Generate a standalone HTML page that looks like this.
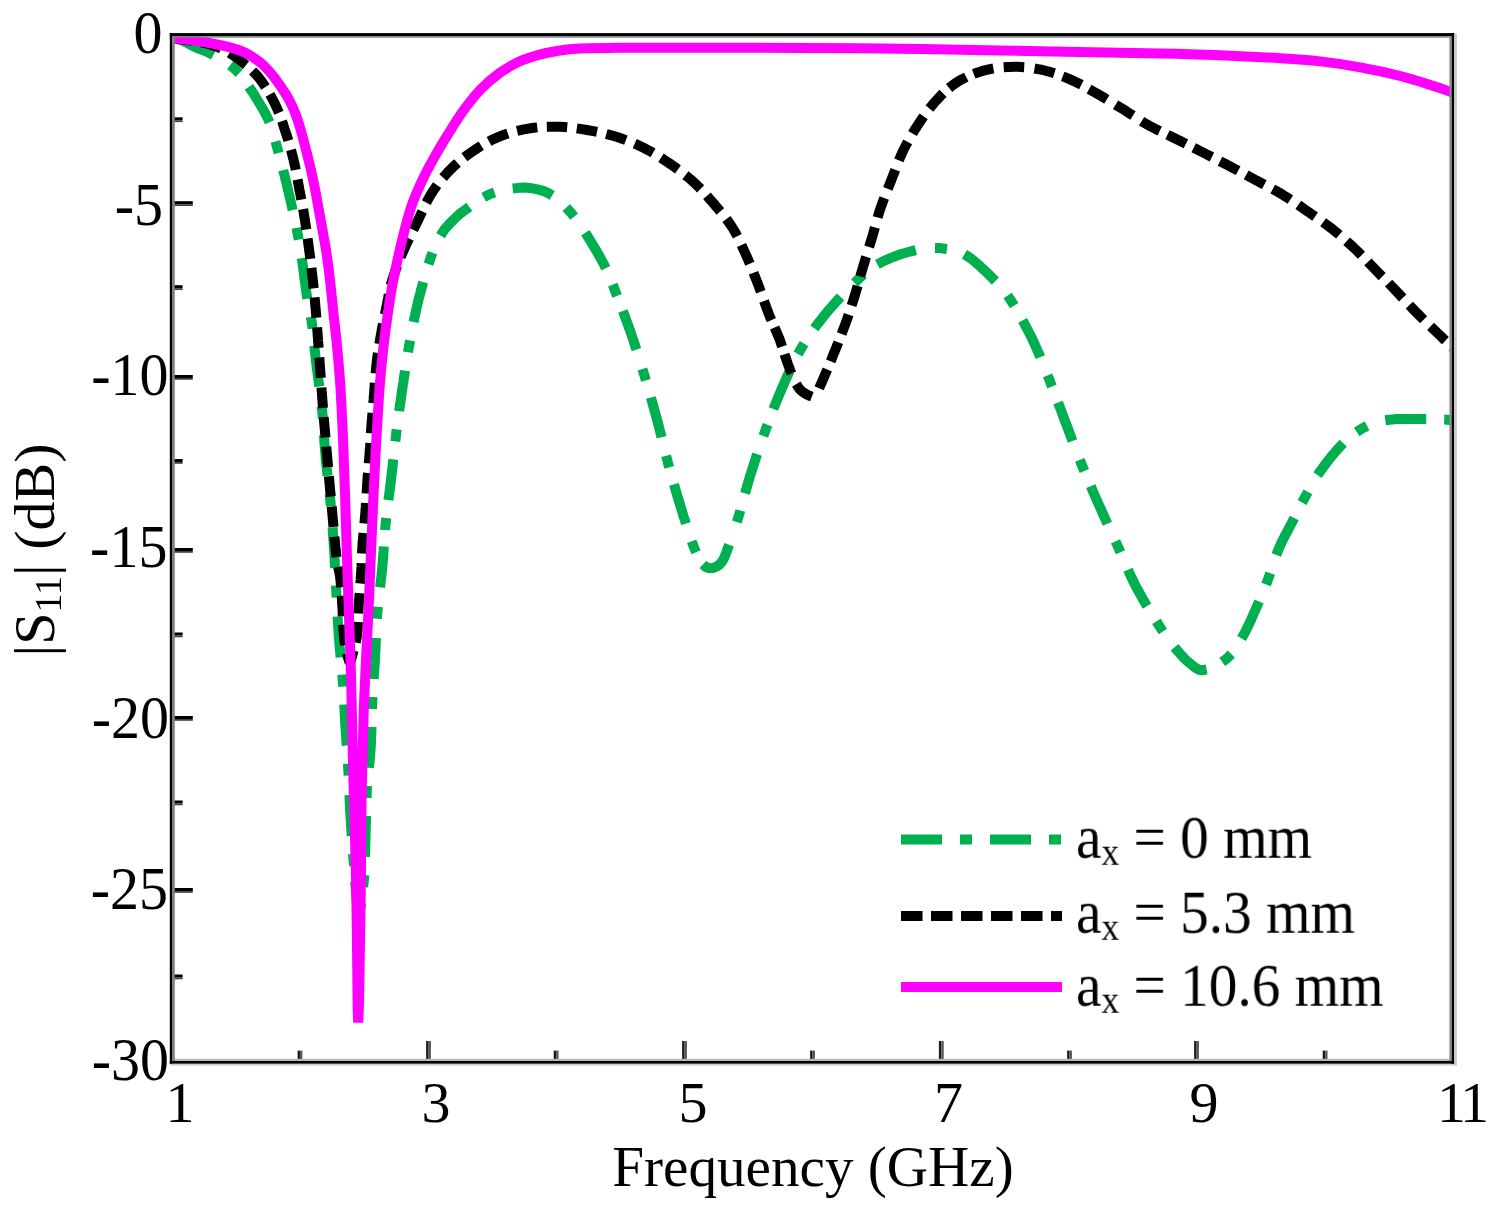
<!DOCTYPE html>
<html><head><meta charset="utf-8"><title>S11</title>
<style>
html,body{margin:0;padding:0;background:#fff;}
body{width:1498px;height:1215px;position:relative;overflow:hidden;font-family:"Liberation Serif",serif;color:#000;}
.yl{position:absolute;width:160px;text-align:right;font-size:58px;line-height:80px;height:80px;white-space:nowrap;transform-origin:100% 50%;transform:scale(1,1.055);}
.xl{position:absolute;top:1063px;width:200px;text-align:center;font-size:58px;line-height:80px;height:80px;white-space:nowrap;}
.xt{position:absolute;left:413px;width:800px;top:1127px;text-align:center;font-size:58px;line-height:80px;white-space:nowrap;transform:scale(0.985,1);}
.yt{will-change:transform;position:absolute;left:0;top:0;font-size:58px;line-height:80px;white-space:nowrap;transform-origin:0 0;transform:translate(-5px,750px) rotate(-90deg);width:400px;text-align:center;}
.lg{will-change:transform;position:absolute;left:1076px;font-size:58px;line-height:80px;white-space:nowrap;transform-origin:0 59.6px;transform:scale(0.987,1.055);}
sub{font-size:38px;vertical-align:-7px;line-height:0;}
.lg sub{font-size:36px;vertical-align:-6px;}
</style></head><body>
<svg width="1498" height="1215" viewBox="0 0 1498 1215" style="position:absolute;left:0;top:0">
<defs><clipPath id="cp"><rect x="172.0" y="36.0" width="1281.0" height="1026.0"/></clipPath></defs>
<g fill="none" clip-path="url(#cp)">
<path d="M175.9,38.7 L179.5,39.6 L183.0,40.9 L186.4,42.6 L189.7,44.3 L193.0,46.0 L196.3,47.6 L199.8,49.1 L203.3,50.3 L206.8,51.7 L210.1,53.3 L213.4,55.1 M230.1,65.3 L233.3,67.7 L236.3,70.4 L239.1,73.2 M249.0,86.8 L251.0,89.9 L253.1,93.0 L255.1,96.2 L257.0,99.3 L259.0,102.5 L260.9,105.7 L262.8,108.9 L264.6,112.2 L266.3,115.5 L268.0,118.8 L269.5,122.2 M275.5,141.5 L276.5,145.4 L277.6,149.2 L278.6,153.1 M283.2,170.1 L284.1,173.8 L285.0,177.4 L285.9,181.0 L286.8,184.6 L287.6,188.3 L288.5,191.9 L289.3,195.5 L290.2,199.1 L291.0,202.8 L291.8,206.4 L292.6,210.1 M296.5,227.8 L297.2,231.7 L298.0,235.7 L298.7,239.6 M301.7,258.1 L302.3,261.8 L302.8,265.5 L303.3,269.2 L303.8,272.9 L304.2,276.6 L304.7,280.3 L305.2,284.0 L305.7,287.7 L306.2,291.4 L306.7,295.1 L307.3,298.8 M310.8,316.8 L311.5,320.8 L312.1,324.7 L312.6,328.7 M314.3,345.8 L314.7,349.5 L315.1,353.2 L315.5,356.9 L315.9,360.6 L316.4,364.3 L316.9,368.0 L317.3,371.7 L317.8,375.4 L318.3,379.1 L318.8,382.8 L319.3,386.5 M321.7,406.2 L322.1,410.1 L322.5,414.1 L322.8,418.1 M324.0,435.1 L324.2,438.8 L324.4,442.5 L324.7,446.2 L325.0,450.0 L325.3,453.7 L325.6,457.4 L325.9,461.1 L326.3,464.8 L326.7,468.5 L327.1,472.2 L327.6,475.9 M329.7,494.2 L330.1,498.2 L330.5,502.2 L330.9,506.2 M332.6,527.2 L332.8,530.9 L333.1,534.6 L333.3,538.4 L333.6,542.1 L333.8,545.8 L334.0,549.5 L334.3,553.2 L334.5,557.0 L334.7,560.7 L334.9,564.4 L335.1,568.1 M336.0,585.4 L336.2,589.4 L336.4,593.4 L336.6,597.4 M337.6,616.4 L337.8,620.1 L338.0,623.9 L338.3,627.6 L338.5,631.3 L338.7,635.0 L339.0,638.7 L339.3,642.5 L339.6,646.2 L339.9,649.9 L340.3,653.6 L340.6,657.3 M342.3,674.7 L342.6,678.7 L342.9,682.7 L343.2,686.7 M344.2,704.5 L344.4,708.3 L344.6,712.0 L344.8,715.7 L345.0,719.4 L345.2,723.1 L345.4,726.9 L345.7,730.6 L345.9,734.3 L346.2,738.0 L346.4,741.7 L346.7,745.5 M347.9,763.6 L348.2,767.6 L348.4,771.6 L348.6,775.6 M349.4,794.9 L349.6,798.6 L349.7,802.4 L349.9,806.1 L350.1,809.8 L350.3,813.5 L350.5,817.3 L350.8,821.0 L351.0,824.7 L351.2,828.4 L351.5,832.1 L351.7,835.9 M353.0,854.0 L353.3,858.0 L353.7,862.0 L354.0,866.0 M355.2,881.8 L355.4,885.5 L355.7,889.2 L356.0,892.9 L356.4,896.6 L356.7,900.3 L357.1,904.1 L357.6,907.7 L358.3,911.4 L359.9,910.0 L360.6,906.4 L361.2,902.7 M363.1,887.0 L363.6,883.0 L364.0,879.0 L364.4,875.0 M365.0,856.9 L365.1,853.2 L365.2,849.5 L365.3,845.7 L365.4,842.0 L365.5,838.3 L365.6,834.6 L365.7,830.8 L365.8,827.1 L365.9,823.4 L366.0,819.7 L366.0,815.9 M366.5,797.9 L366.7,793.9 L366.9,789.9 L367.2,785.9 M368.9,767.8 L369.3,764.1 L369.7,760.4 L370.0,756.7 L370.3,753.0 L370.6,749.3 L370.8,745.5 L371.0,741.8 L371.1,738.1 L371.3,734.4 L371.4,730.6 L371.5,726.9 M372.0,709.0 L372.1,705.0 L372.3,701.0 L372.5,697.0 M373.7,679.0 L373.9,675.2 L374.2,671.5 L374.4,667.8 L374.7,664.1 L374.9,660.4 L375.1,656.6 L375.3,652.9 L375.5,649.2 L375.6,645.5 L375.8,641.7 L376.0,638.0 M377.0,618.8 L377.2,614.8 L377.6,610.8 L377.9,606.8 M380.1,587.4 L380.5,583.7 L380.9,580.0 L381.4,576.3 L381.7,572.6 L382.1,568.9 L382.5,565.1 L382.8,561.4 L383.1,557.7 L383.3,554.0 L383.6,550.3 L383.8,546.6 M385.1,530.0 L385.4,526.0 L385.8,522.0 L386.2,518.0 M388.4,500.1 L388.9,496.4 L389.4,492.7 L389.9,489.0 L390.3,485.4 L390.8,481.7 L391.2,477.9 L391.6,474.2 L392.1,470.5 L392.5,466.8 L392.9,463.1 L393.3,459.4 M395.3,441.3 L395.8,437.3 L396.2,433.3 L396.7,429.3 M399.1,411.2 L399.6,407.5 L400.2,403.8 L400.7,400.1 L401.2,396.4 L401.7,392.7 L402.3,389.1 L402.8,385.4 L403.4,381.7 L403.9,378.0 L404.5,374.3 L405.0,370.6 M408.0,352.3 L408.6,348.4 L409.4,344.4 L410.1,340.5 M413.6,322.0 L414.3,318.4 L415.1,314.7 L415.9,311.1 L416.7,307.4 L417.6,303.8 L418.4,300.2 L419.3,296.6 L420.3,293.0 L421.2,289.4 L422.2,285.8 L423.2,282.2 M428.5,264.1 L429.8,260.3 L431.1,256.5 L432.5,252.8 M440.6,235.6 L442.5,232.4 L444.6,229.4 L447.0,226.5 L449.5,223.8 L452.2,221.1 L454.8,218.5 L457.5,215.9 L460.3,213.5 L463.3,211.2 L466.3,209.1 L469.3,206.9 M483.7,197.3 L487.2,195.4 L490.8,193.8 L494.6,192.5 M512.7,188.5 L516.4,188.1 L520.1,187.7 L523.8,187.6 L527.5,187.8 L531.2,188.2 L534.9,188.9 L538.6,189.6 L542.1,190.6 L545.6,191.9 L549.0,193.5 L552.2,195.5 M566.2,207.6 L568.9,210.5 L571.6,213.5 L574.2,216.6 M585.3,232.7 L587.3,235.8 L589.3,239.0 L591.2,242.2 L593.1,245.3 L595.0,248.6 L596.9,251.8 L598.8,255.0 L600.6,258.3 L602.4,261.5 L604.1,264.8 L605.8,268.2 M612.7,284.7 L614.2,288.4 L615.6,292.2 L617.1,295.9 M622.9,311.0 L624.2,314.5 L625.5,318.0 L626.7,321.5 L628.0,325.0 L629.3,328.5 L630.5,332.0 L631.7,335.5 L632.9,339.0 L634.1,342.6 L635.2,346.1 L636.4,349.7 M642.4,369.0 L643.6,372.8 L644.8,376.6 L645.9,380.4 M650.9,397.5 L651.9,401.1 L652.9,404.7 L653.9,408.3 L654.9,411.9 L655.9,415.5 L656.9,419.1 L657.8,422.7 L658.8,426.3 L659.7,429.9 L660.6,433.5 L661.5,437.2 M666.1,455.7 L667.1,459.6 L668.1,463.4 L669.2,467.3 M674.0,484.3 L675.0,487.9 L676.0,491.5 L677.1,495.1 L678.2,498.7 L679.3,502.2 L680.3,505.8 L681.4,509.3 L682.5,512.9 L683.6,516.5 L684.8,520.0 L685.9,523.6 M691.7,541.2 L693.1,544.9 L694.5,548.7 L696.1,552.3 M703.0,564.3 L705.7,566.9 L709.1,568.2 L712.8,568.0 L716.4,566.8 L719.4,564.7 L721.9,561.9 L723.7,558.7 L725.2,555.3 L726.6,551.8 L727.8,548.3 L729.1,544.8 M736.8,522.0 L738.0,518.2 L739.2,514.4 L740.3,510.5 M745.1,493.4 L746.1,489.8 L747.1,486.2 L748.1,482.6 L749.2,479.0 L750.2,475.5 L751.4,471.9 L752.5,468.4 L753.6,464.8 L754.8,461.3 L755.9,457.7 L757.1,454.2 M763.4,436.0 L764.7,432.3 L766.1,428.5 L767.5,424.8 M773.4,409.0 L774.8,405.5 L776.2,402.0 L777.6,398.6 L779.0,395.1 L780.5,391.7 L781.9,388.3 L783.4,384.9 L784.9,381.5 L786.4,378.0 L788.0,374.6 L789.5,371.3 M798.0,354.0 L800.0,350.5 L802.0,347.1 L804.1,343.7 M814.4,328.4 L816.6,325.4 L818.9,322.4 L821.2,319.5 L823.5,316.5 L825.8,313.6 L828.2,310.8 L830.6,307.9 L833.1,305.1 L835.6,302.4 L838.1,299.6 L840.6,296.9 M854.5,282.8 L857.4,280.1 L860.4,277.4 L863.4,274.7 M877.4,264.4 L880.7,262.6 L884.0,260.9 L887.4,259.4 L890.9,257.9 L894.3,256.6 L897.8,255.3 L901.4,254.1 L904.9,253.0 L908.5,252.0 L912.1,251.1 L915.8,250.2 M935.0,248.0 L939.0,248.1 L943.0,248.5 L947.0,249.0 M964.4,254.4 L967.6,256.3 L970.7,258.4 L973.6,260.7 L976.5,263.1 L979.3,265.5 L982.0,268.1 L984.7,270.6 L987.4,273.2 L990.1,275.8 L992.7,278.5 L995.3,281.1 M1007.7,295.6 L1009.9,298.9 L1012.1,302.3 L1014.2,305.7 M1022.6,320.3 L1024.4,323.6 L1026.1,326.9 L1027.8,330.2 L1029.5,333.5 L1031.2,336.8 L1032.8,340.2 L1034.4,343.6 L1035.9,347.0 L1037.4,350.4 L1038.9,353.8 L1040.3,357.2 M1047.6,375.3 L1049.1,379.0 L1050.5,382.8 L1052.0,386.5 M1058.1,402.6 L1059.4,406.1 L1060.7,409.6 L1062.0,413.1 L1063.3,416.6 L1064.6,420.1 L1066.0,423.5 L1067.3,427.0 L1068.6,430.5 L1069.9,434.0 L1071.2,437.5 L1072.5,441.0 M1079.8,459.8 L1081.3,463.5 L1082.8,467.3 L1084.3,471.0 M1090.8,486.2 L1092.2,489.6 L1093.7,493.1 L1095.2,496.5 L1096.7,499.9 L1098.2,503.3 L1099.8,506.7 L1101.3,510.1 L1102.8,513.5 L1104.3,516.9 L1105.9,520.3 L1107.4,523.7 M1115.5,541.3 L1117.2,545.0 L1118.8,548.6 L1120.4,552.3 M1128.0,569.8 L1129.5,573.2 L1131.1,576.6 L1132.7,580.0 L1134.3,583.3 L1136.0,586.6 L1137.8,589.9 L1139.6,593.2 L1141.4,596.4 L1143.2,599.7 L1145.1,602.9 L1147.0,606.1 M1156.4,621.3 L1158.5,624.7 L1160.7,628.1 L1162.9,631.4 M1174.6,647.3 L1177.0,650.2 L1179.5,653.0 L1182.0,655.8 L1184.5,658.5 L1187.2,661.1 L1190.1,663.5 L1193.0,665.8 L1195.9,668.1 L1199.2,669.8 L1202.9,670.1 L1206.6,669.4 M1222.2,661.9 L1225.5,659.6 L1228.5,656.9 L1231.2,654.0 M1241.5,638.4 L1243.4,635.2 L1245.2,631.9 L1246.9,628.6 L1248.5,625.3 L1250.1,621.9 L1251.6,618.5 L1253.1,615.1 L1254.6,611.6 L1256.1,608.2 L1257.6,604.8 L1259.1,601.4 M1266.1,584.5 L1267.5,580.8 L1268.9,577.0 L1270.2,573.2 M1276.4,554.9 L1277.7,551.4 L1279.1,548.0 L1280.6,544.6 L1282.2,541.2 L1283.8,537.9 L1285.5,534.6 L1287.3,531.3 L1289.0,528.0 L1290.8,524.7 L1292.5,521.4 L1294.2,518.0 M1302.1,502.5 L1304.0,499.0 L1306.0,495.4 L1307.9,491.9 M1317.6,475.1 L1319.7,472.0 L1321.9,469.0 L1324.1,466.0 L1326.3,463.0 L1328.6,460.0 L1330.9,457.1 L1333.3,454.2 L1335.7,451.4 L1338.2,448.6 L1340.7,445.9 L1343.3,443.2 M1356.7,431.9 L1360.1,429.7 L1363.6,427.7 L1367.1,425.9 M1385.3,420.2 L1389.0,419.7 L1392.7,419.4 L1396.4,419.1 L1400.1,419.0 L1403.8,418.9 L1407.6,418.9 L1411.3,418.9 L1415.0,418.9 L1418.8,419.0 L1422.5,419.0 L1426.2,419.0 M1444.2,419.6 L1447.1,419.7 L1450.1,419.9 L1453.0,420.0" stroke="#00B050" stroke-width="10"/>
<path d="M172.5,38.0 L176.4,38.6 L180.4,39.2 L184.3,39.7 L188.3,40.3 L192.2,40.9 M201.6,42.5 L204.9,43.2 L208.2,44.0 L211.5,44.8 L214.8,45.9 L218.0,47.2 L221.1,48.6 M229.5,53.0 L232.4,54.8 L235.2,56.7 L237.9,58.8 L240.6,60.9 L243.3,63.0 L246.0,65.1 M252.6,71.0 L255.0,73.4 L257.3,75.9 L259.5,78.5 L261.5,81.2 L263.5,84.0 L265.4,86.9 M269.9,94.4 L271.6,97.4 L273.2,100.4 L274.7,103.5 L276.2,106.5 L277.6,109.7 L278.9,112.8 M282.0,121.1 L283.1,124.3 L284.1,127.6 L285.2,130.8 L286.3,134.0 L287.3,137.3 L288.3,140.6 M291.0,149.9 L291.9,153.2 L292.7,156.5 L293.6,159.9 L294.3,163.2 L295.1,166.5 L295.7,169.9 M297.6,179.5 L298.2,182.8 L298.8,186.2 L299.4,189.5 L300.1,192.9 L300.7,196.2 L301.3,199.6 M303.1,209.2 L303.7,212.6 L304.2,215.9 L304.8,219.3 L305.3,222.7 L305.8,226.1 L306.3,229.4 M307.6,238.5 L308.1,241.9 L308.5,245.3 L309.0,248.7 L309.4,252.1 L309.9,255.4 L310.3,258.8 M311.4,267.9 L311.8,271.3 L312.2,274.7 L312.6,278.1 L313.0,281.5 L313.3,284.9 L313.7,288.3 M314.6,297.4 L314.9,300.8 L315.2,304.2 L315.5,307.6 L315.8,311.0 L316.1,314.4 L316.4,317.8 M317.1,327.4 L317.4,330.8 L317.6,334.2 L317.9,337.7 L318.1,341.1 L318.4,344.5 L318.6,347.9 M319.3,357.5 L319.6,360.9 L319.8,364.3 L320.0,367.7 L320.3,371.1 L320.5,374.5 L320.8,377.9 M321.5,387.5 L321.7,390.9 L322.0,394.3 L322.2,397.7 L322.5,401.1 L322.7,404.5 L323.0,408.0 M323.7,417.1 L324.0,420.5 L324.3,423.9 L324.6,427.3 L324.9,430.7 L325.2,434.1 L325.5,437.5 M326.3,446.6 L326.6,450.0 L326.9,453.5 L327.2,456.9 L327.5,460.3 L327.8,463.7 L328.1,467.1 M328.9,476.2 L329.2,479.6 L329.5,483.0 L329.8,486.4 L330.1,489.8 L330.4,493.2 L330.8,496.6 M331.7,506.5 L332.0,509.9 L332.3,513.3 L332.6,516.7 L332.9,520.1 L333.2,523.5 L333.5,526.9 M334.4,536.8 L334.7,540.2 L335.1,543.6 L335.4,547.0 L335.8,550.4 L336.1,553.8 L336.5,557.2 M338.2,566.9 L338.9,570.3 L339.6,573.6 L340.1,577.0 L340.5,580.4 L340.8,583.8 L341.1,587.2 M341.7,595.7 L341.9,599.1 L342.1,602.5 L342.3,605.9 L342.5,609.3 L342.6,612.7 L342.8,616.2 M343.1,624.7 L343.3,628.1 L343.5,631.5 L343.8,634.9 L344.2,638.3 L344.6,641.7 L345.2,645.0 M346.9,653.4 L347.7,656.7 L348.8,660.0 L350.8,660.5 L351.9,657.2 L352.7,653.9 L353.5,650.6 M355.7,642.4 L356.4,639.0 L357.0,635.7 L357.4,632.3 L357.7,628.9 L357.8,625.5 L358.0,622.0 M358.3,613.5 L358.5,610.1 L358.7,606.7 L358.9,603.3 L359.1,599.9 L359.4,596.5 L359.6,593.1 M360.3,583.5 L360.6,580.1 L360.8,576.7 L361.1,573.3 L361.3,569.9 L361.5,566.5 L361.6,563.1 M362.0,553.5 L362.2,550.1 L362.4,546.6 L362.6,543.2 L362.9,539.8 L363.2,536.4 L363.5,533.0 M364.4,523.5 L364.7,520.1 L365.0,516.7 L365.3,513.3 L365.5,509.8 L365.8,506.4 L366.0,503.0 M366.6,493.5 L366.8,490.0 L367.0,486.6 L367.2,483.2 L367.5,479.8 L367.7,476.4 L368.0,473.0 M368.8,463.4 L369.1,460.0 L369.3,456.6 L369.6,453.2 L369.8,449.8 L370.1,446.4 L370.3,443.0 M370.9,433.3 L371.1,429.9 L371.4,426.5 L371.6,423.1 L371.9,419.7 L372.2,416.3 L372.5,412.9 M373.3,403.3 L373.6,399.9 L373.8,396.5 L374.1,393.1 L374.4,389.7 L374.6,386.3 L374.8,382.9 M375.6,373.5 L375.9,370.1 L376.2,366.7 L376.6,363.3 L377.0,359.9 L377.4,356.5 L377.9,353.1 M379.4,343.9 L379.9,340.5 L380.5,337.1 L381.1,333.8 L381.7,330.4 L382.3,327.0 L383.0,323.7 M384.9,314.5 L385.6,311.1 L386.2,307.8 L386.9,304.4 L387.5,301.1 L388.2,297.7 L388.8,294.4 M390.7,285.2 L391.6,281.9 L392.7,278.6 L393.8,275.4 L394.9,272.2 L396.0,268.9 L397.2,265.7 M400.6,257.0 L402.0,253.9 L403.4,250.7 L404.8,247.6 L406.2,244.5 L407.7,241.4 L409.2,238.4 M413.3,229.9 L414.8,226.8 L416.3,223.8 L417.8,220.7 L419.3,217.6 L420.7,214.5 L422.2,211.4 M426.3,202.6 L427.9,199.6 L429.6,196.6 L431.3,193.7 L433.2,190.8 L435.1,188.0 L437.1,185.2 M443.1,177.6 L445.4,175.0 L447.6,172.5 L450.0,170.0 L452.4,167.6 L454.9,165.3 L457.5,163.0 M464.4,157.3 L467.1,155.3 L469.9,153.3 L472.7,151.3 L475.5,149.4 L478.4,147.6 L481.3,145.8 M489.0,141.4 L492.1,139.8 L495.2,138.4 L498.3,137.0 L501.5,135.7 L504.7,134.6 L507.9,133.5 M517.1,130.9 L520.4,130.1 L523.7,129.4 L527.1,128.8 L530.5,128.2 L533.9,127.8 L537.3,127.4 M546.8,126.8 L550.2,126.7 L553.6,126.7 L557.0,126.7 L560.4,126.8 L563.8,127.0 L567.2,127.3 M576.8,128.4 L580.2,128.9 L583.5,129.4 L586.9,130.0 L590.3,130.6 L593.6,131.2 L597.0,131.9 M606.3,134.0 L609.6,134.9 L612.9,135.8 L616.2,136.8 L619.5,137.8 L622.7,138.9 L625.9,140.1 M634.7,143.6 L637.8,145.0 L640.9,146.5 L644.0,148.0 L647.0,149.6 L650.0,151.2 L653.0,152.9 M661.0,157.8 L663.9,159.7 L666.8,161.6 L669.6,163.5 L672.4,165.4 L675.2,167.4 L678.0,169.4 M685.4,175.2 L688.1,177.3 L690.7,179.5 L693.2,181.8 L695.8,184.1 L698.2,186.5 L700.6,188.9 M707.0,195.8 L709.2,198.4 L711.5,201.0 L713.7,203.6 L715.9,206.2 L718.1,208.8 L720.3,211.4 M726.4,219.0 L728.4,221.7 L730.4,224.5 L732.2,227.3 L734.0,230.3 L735.7,233.2 L737.3,236.3 M741.5,245.0 L742.9,248.1 L744.3,251.2 L745.7,254.3 L747.1,257.4 L748.5,260.6 L749.8,263.7 M753.5,272.7 L754.7,275.9 L756.0,279.0 L757.2,282.2 L758.5,285.4 L759.6,288.6 L760.8,291.8 M764.0,301.0 L765.2,304.2 L766.3,307.4 L767.5,310.6 L768.7,313.8 L770.0,317.0 L771.4,320.1 M774.6,327.5 L776.0,330.6 L777.3,333.8 L778.6,336.9 L779.9,340.1 L781.0,343.3 L782.1,346.6 M784.6,354.2 L785.6,357.5 L786.7,360.7 L787.8,363.9 L789.0,367.1 L790.2,370.3 L791.5,373.5 M796.3,384.1 L798.1,387.0 L800.2,389.7 L802.8,392.0 L805.7,393.8 L808.7,395.4 L811.9,396.6 M819.1,388.2 L820.5,385.1 L821.9,382.0 L823.3,378.9 L824.6,375.7 L826.0,372.6 L827.3,369.5 M830.7,361.3 L832.0,358.1 L833.2,354.9 L834.5,351.8 L835.8,348.6 L837.1,345.4 L838.3,342.2 M841.6,334.0 L842.8,330.8 L844.0,327.6 L845.2,324.4 L846.3,321.2 L847.5,318.0 L848.6,314.7 M851.6,305.5 L852.7,302.2 L853.7,299.0 L854.7,295.7 L855.7,292.4 L856.7,289.1 L857.6,285.9 M860.3,276.5 L861.2,273.2 L862.2,269.9 L863.1,266.6 L864.1,263.4 L865.1,260.1 L866.1,256.8 M869.1,247.0 L870.1,243.8 L871.1,240.5 L872.1,237.2 L873.1,233.9 L874.0,230.7 L874.9,227.4 M877.7,217.5 L878.6,214.2 L879.6,210.9 L880.7,207.7 L881.8,204.5 L883.0,201.3 L884.2,198.1 M887.8,188.8 L889.1,185.6 L890.4,182.4 L891.6,179.3 L892.8,176.1 L894.1,172.9 L895.3,169.7 M898.9,160.4 L900.2,157.2 L901.6,154.1 L903.0,151.0 L904.5,147.9 L906.1,144.9 L907.7,141.9 M912.5,133.5 L914.2,130.6 L916.1,127.7 L917.9,124.9 L919.8,122.0 L921.7,119.2 L923.7,116.4 M929.4,108.6 L931.6,106.0 L933.8,103.3 L936.0,100.8 L938.4,98.3 L940.7,95.8 L943.1,93.4 M949.1,88.0 L951.7,85.9 L954.5,83.9 L957.3,82.0 L960.3,80.2 L963.3,78.6 L966.3,77.1 M973.7,73.9 L976.9,72.7 L980.1,71.7 L983.4,70.7 L986.7,69.9 L990.0,69.1 L993.4,68.5 M1003.7,67.2 L1007.1,67.0 L1010.5,66.9 L1013.9,66.8 L1017.4,66.8 L1020.8,67.0 L1024.2,67.2 M1034.5,68.5 L1037.8,69.1 L1041.2,69.7 L1044.5,70.5 L1047.8,71.3 L1051.1,72.3 L1054.4,73.3 M1062.7,76.4 L1065.9,77.6 L1069.0,78.9 L1072.2,80.3 L1075.3,81.7 L1078.3,83.2 L1081.4,84.8 M1089.1,89.1 L1092.1,90.8 L1095.0,92.5 L1098.0,94.2 L1101.0,95.9 L1103.9,97.6 L1106.8,99.4 M1115.6,104.7 L1118.5,106.5 L1121.5,108.3 L1124.4,110.1 L1127.3,111.9 L1130.1,113.8 L1133.0,115.6 M1141.6,121.2 L1144.5,123.0 L1147.5,124.7 L1150.5,126.3 L1153.5,127.9 L1156.6,129.4 L1159.7,130.9 M1167.5,134.7 L1170.6,136.2 L1173.6,137.7 L1176.7,139.3 L1179.8,140.8 L1182.8,142.3 L1185.9,143.9 M1193.7,147.8 L1196.7,149.3 L1199.8,150.9 L1202.8,152.4 L1205.8,153.9 L1208.9,155.5 L1211.9,157.0 M1220.0,161.2 L1223.0,162.7 L1226.1,164.3 L1229.1,165.9 L1232.1,167.5 L1235.2,169.1 L1238.2,170.7 M1246.2,174.9 L1249.2,176.6 L1252.2,178.2 L1255.2,179.8 L1258.2,181.4 L1261.2,183.0 L1264.3,184.6 M1272.7,189.1 L1275.7,190.7 L1278.7,192.4 L1281.7,194.1 L1284.6,195.9 L1287.5,197.7 L1290.3,199.6 M1298.3,204.9 L1301.1,206.9 L1303.9,208.9 L1306.7,210.8 L1309.5,212.7 L1312.3,214.7 L1315.1,216.6 M1323.1,222.2 L1325.9,224.2 L1328.6,226.2 L1331.3,228.3 L1334.0,230.4 L1336.7,232.6 L1339.3,234.8 M1346.6,241.2 L1349.2,243.5 L1351.7,245.8 L1354.2,248.1 L1356.7,250.5 L1359.1,252.9 L1361.5,255.3 M1367.9,261.9 L1370.2,264.4 L1372.6,266.8 L1375.0,269.3 L1377.4,271.7 L1379.8,274.2 L1382.2,276.6 M1388.6,283.1 L1391.0,285.6 L1393.3,288.0 L1395.7,290.5 L1398.1,293.0 L1400.4,295.5 L1402.7,298.0 M1409.3,305.1 L1411.6,307.5 L1414.0,310.0 L1416.4,312.5 L1418.8,314.9 L1421.2,317.3 L1423.6,319.7 M1430.6,326.4 L1433.1,328.8 L1435.5,331.1 L1438.0,333.5 L1440.5,335.9 L1442.9,338.3 L1445.4,340.6 M1452.2,347.2 L1453.0,348.0" stroke="#000" stroke-width="10"/>
<path d="M172.5,38.0 C177.2,38.6 191.3,39.9 200.9,41.5 C210.5,43.1 222.7,45.5 230.0,47.4 C237.3,49.2 239.9,50.2 244.8,52.6 C249.7,55.0 255.3,58.5 259.6,61.9 C263.9,65.3 267.4,69.2 270.7,73.0 C274.0,76.8 276.3,80.0 279.3,84.4 C282.3,88.8 286.2,94.3 288.9,99.3 C291.6,104.2 293.7,109.2 295.6,114.1 C297.5,119.0 298.0,120.5 300.4,128.9 C302.8,137.3 307.2,154.4 309.7,164.6 C312.2,174.8 313.4,180.8 315.2,190.0 C317.0,199.2 318.8,209.7 320.6,219.6 C322.4,229.5 324.4,240.2 325.9,249.3 C327.3,258.4 328.1,264.0 329.3,274.0 C330.5,284.0 331.8,297.0 333.1,309.5 C334.4,322.0 336.1,335.8 337.3,349.0 C338.5,362.2 339.5,372.3 340.5,388.5 C341.5,404.7 342.5,427.1 343.3,446.0 C344.1,464.9 344.7,483.7 345.3,502.0 C345.9,520.3 346.3,538.3 346.9,556.0 C347.5,573.7 348.1,590.3 348.7,608.0 C349.3,625.7 350.1,643.7 350.6,662.0 C351.2,680.3 351.6,700.7 352.0,718.0 C352.4,735.3 352.7,748.7 353.1,766.0 C353.5,783.3 354.1,803.3 354.6,822.0 C355.1,840.7 355.6,860.3 356.0,878.0 C356.4,895.7 356.5,907.3 356.8,928.0 C357.1,948.7 357.4,986.2 357.6,1002.0 C357.8,1017.8 358.1,1019.1 358.2,1022.5 C358.3,1019.1 358.7,1017.8 359.0,1002.0 C359.3,986.2 359.9,948.7 360.2,928.0 C360.5,907.3 360.7,895.7 360.9,878.0 C361.1,860.3 361.1,840.7 361.3,822.0 C361.5,803.3 361.9,784.3 362.3,766.0 C362.7,747.7 363.1,729.3 363.7,712.0 C364.3,694.7 365.1,679.3 365.9,662.0 C366.7,644.7 367.8,626.3 368.6,608.0 C369.5,589.7 370.2,569.7 371.0,552.0 C371.8,534.3 372.4,519.7 373.2,502.0 C374.0,484.3 374.9,464.8 376.0,446.0 C377.1,427.2 378.3,405.2 379.5,389.0 C380.7,372.8 381.7,362.2 383.2,349.0 C384.7,335.8 386.9,319.7 388.4,309.5 C389.8,299.3 390.4,296.1 391.9,287.8 C393.4,279.6 395.5,269.3 397.5,260.0 C399.5,250.7 401.7,241.3 404.1,232.0 C406.6,222.7 408.8,213.3 412.2,204.0 C415.6,194.7 419.8,185.3 424.3,176.0 C428.9,166.7 435.0,156.2 439.5,148.3 C444.0,140.4 447.3,135.2 451.5,128.7 C455.7,122.1 459.6,115.6 464.5,109.0 C469.4,102.4 475.0,95.1 480.8,89.2 C486.6,83.3 492.8,78.0 499.1,73.4 C505.4,68.8 512.2,64.9 518.8,61.8 C525.4,58.7 532.0,56.8 538.6,54.9 C545.2,53.0 551.4,51.8 558.3,50.7 C565.2,49.7 569.7,49.1 580.0,48.6 C590.3,48.1 598.3,47.9 620.0,47.7 C641.7,47.6 670.0,47.6 710.0,47.7 C750.0,47.8 811.7,47.8 860.0,48.3 C908.3,48.8 950.0,49.6 1000.0,50.5 C1050.0,51.4 1123.3,52.6 1160.0,53.4 C1196.7,54.2 1200.0,54.4 1220.0,55.2 C1240.0,56.0 1263.5,57.2 1280.2,58.2 C1296.9,59.2 1306.9,59.9 1320.2,61.4 C1333.5,62.9 1347.0,64.9 1360.3,67.3 C1373.6,69.7 1388.6,73.0 1400.3,76.0 C1412.0,79.0 1421.6,82.2 1430.4,85.0 C1439.2,87.8 1449.2,91.3 1453.0,92.6" stroke="#FF00FF" stroke-width="10" stroke-linejoin="bevel"/>
</g>
<g><rect x="172.0" y="117.3" width="10.6" height="3.0" fill="#000"/><rect x="172.0" y="120.3" width="10.6" height="1.8" fill="#444"/><rect x="172.0" y="201.2" width="20.8" height="3.0" fill="#000"/><rect x="172.0" y="204.2" width="20.8" height="1.8" fill="#444"/><rect x="172.0" y="285.2" width="10.6" height="3.0" fill="#000"/><rect x="172.0" y="288.2" width="10.6" height="1.8" fill="#444"/><rect x="172.0" y="375.0" width="20.8" height="3.0" fill="#000"/><rect x="172.0" y="378.0" width="20.8" height="1.8" fill="#444"/><rect x="172.0" y="459.0" width="10.6" height="3.0" fill="#000"/><rect x="172.0" y="462.0" width="10.6" height="1.8" fill="#444"/><rect x="172.0" y="548.0" width="20.8" height="3.0" fill="#000"/><rect x="172.0" y="551.0" width="20.8" height="1.8" fill="#444"/><rect x="172.0" y="632.5" width="10.6" height="3.0" fill="#000"/><rect x="172.0" y="635.5" width="10.6" height="1.8" fill="#444"/><rect x="172.0" y="716.0" width="20.8" height="3.0" fill="#000"/><rect x="172.0" y="719.0" width="20.8" height="1.8" fill="#444"/><rect x="172.0" y="800.5" width="10.6" height="3.0" fill="#000"/><rect x="172.0" y="803.5" width="10.6" height="1.8" fill="#444"/><rect x="172.0" y="888.0" width="20.8" height="3.0" fill="#000"/><rect x="172.0" y="891.0" width="20.8" height="1.8" fill="#444"/><rect x="172.0" y="974.5" width="10.6" height="3.0" fill="#000"/><rect x="172.0" y="977.5" width="10.6" height="1.8" fill="#444"/><rect x="297.6" y="1050.6" width="2.5" height="10.9" fill="#1c1c1c"/><rect x="300.1" y="1050.6" width="2.3" height="10.9" fill="#555"/><rect x="426.1" y="1041.0" width="2.5" height="20.5" fill="#1c1c1c"/><rect x="428.6" y="1041.0" width="2.3" height="20.5" fill="#555"/><rect x="553.7" y="1050.6" width="2.5" height="10.9" fill="#1c1c1c"/><rect x="556.2" y="1050.6" width="2.3" height="10.9" fill="#555"/><rect x="682.1" y="1041.0" width="2.5" height="20.5" fill="#1c1c1c"/><rect x="684.6" y="1041.0" width="2.3" height="20.5" fill="#555"/><rect x="810.1" y="1050.6" width="2.5" height="10.9" fill="#1c1c1c"/><rect x="812.6" y="1050.6" width="2.3" height="10.9" fill="#555"/><rect x="938.9" y="1041.0" width="2.5" height="20.5" fill="#1c1c1c"/><rect x="941.4" y="1041.0" width="2.3" height="20.5" fill="#555"/><rect x="1067.1" y="1050.6" width="2.5" height="10.9" fill="#1c1c1c"/><rect x="1069.6" y="1050.6" width="2.3" height="10.9" fill="#555"/><rect x="1194.1" y="1041.0" width="2.5" height="20.5" fill="#1c1c1c"/><rect x="1196.6" y="1041.0" width="2.3" height="20.5" fill="#555"/><rect x="1322.7" y="1050.6" width="2.5" height="10.9" fill="#1c1c1c"/><rect x="1325.2" y="1050.6" width="2.3" height="10.9" fill="#555"/><rect x="169.8" y="33.1" width="1284.4" height="3.0" fill="#000"/><rect x="172.0" y="36.1" width="1279.8" height="1.6" fill="#808080"/><rect x="172.0" y="1058.8" width="1279.8" height="2.2" fill="#b8b8b8"/><rect x="169.8" y="1061.0" width="1284.4" height="2.8" fill="#000"/><rect x="169.8" y="1063.8" width="1287.1" height="1.8" fill="#d0d0d0"/><rect x="169.8" y="33.1" width="2.2" height="1030.7" fill="#000"/><rect x="172.0" y="36.1" width="2.8" height="1024.9" fill="#808080"/><rect x="1449.4" y="36.1" width="2.4" height="1024.9" fill="#8a8a8a"/><rect x="1451.8" y="33.1" width="2.4" height="1030.7" fill="#000"/><rect x="1454.2" y="34.0" width="2.7" height="1031.6" fill="#c8c8c8"/></g>
<g fill="none">
<path d="M901,839.5 H1062" stroke="#00B050" stroke-width="10" stroke-dasharray="41 18 12 18"/>
<path d="M901,916 H1062" stroke="#000" stroke-width="10" stroke-dasharray="21.5 8.5"/>
<path d="M901,987 H1062" stroke="#FF00FF" stroke-width="10"/>
</g>
</svg>
<div class="yl" style="top:-6.9px;left:2.6px">0</div><div class="yl" style="top:164.5px;left:3.0px">-5</div><div class="yl" style="top:335.0px;left:8.6px">-10</div><div class="yl" style="top:506.7px;left:7.4px">-15</div><div class="yl" style="top:677.7px;left:9.0px">-20</div><div class="yl" style="top:849.0px;left:8.0px">-25</div><div class="yl" style="top:1019.5px;left:9.0px">-30</div><div class="xl" style="left:80.0px">1</div><div class="xl" style="left:336.0px">3</div><div class="xl" style="left:593.0px">5</div><div class="xl" style="left:848.6px">7</div><div class="xl" style="left:1104.0px">9</div><div class="xl" style="left:1363.0px;letter-spacing:-4px;text-indent:-4px">11</div>
<div class="xt">Frequency (GHz)</div>
<div class="yt">|S<sub>11</sub>| (dB)</div>
<div class="lg" style="top:798.9px">a<sub>x</sub> = 0 mm</div>
<div class="lg" style="top:874.4px">a<sub>x</sub> = 5.3 mm</div>
<div class="lg" style="top:946.9px">a<sub>x</sub> = 10.6 mm</div>
</body></html>
